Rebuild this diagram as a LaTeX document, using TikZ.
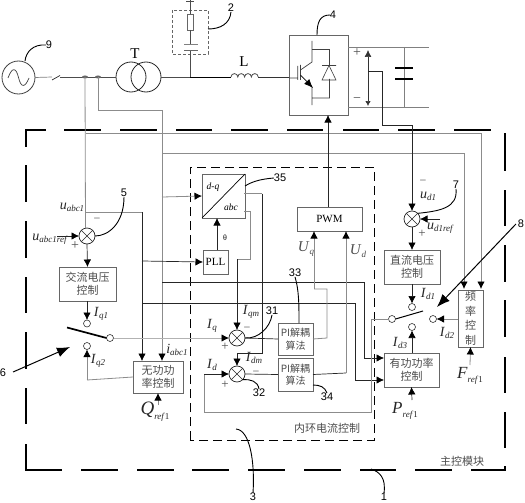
\documentclass[tikz,border=0pt]{standalone}
\usepackage{fontspec}
\setmainfont{Liberation Serif}
\newfontfamily\cjk{Noto Sans CJK SC}
\newfontfamily\numf{Liberation Sans}
\usetikzlibrary{arrows.meta,calc}
\newcommand{\lab}[2]{\textit{#1}\raisebox{-0.35ex}{\fontsize{9}{9}\selectfont\textit{#2}}}
\newcommand{\labr}[3]{\textit{#1}\raisebox{-0.55ex}{\fontsize{9}{9}\selectfont\textit{#2}#3}}
\tikzset{
 every node/.style={inner sep=0pt,outer sep=0pt},
 gl/.style={draw=black!45,line width=0.8pt},
 bl/.style={draw=black!85,line width=0.7pt},
 arr/.style={-{Latex[length=7.5pt,width=7.5pt,black]}},
 blockbox/.style={draw=black!60,line width=0.9pt,fill=white,font=\cjk\fontsize{11}{13.5}\selectfont,text=black!70,align=center},
 sumj/.style={circle,draw=black!85,line width=0.7pt,minimum size=16pt,fill=white,
   path picture={\draw[black!85,line width=0.6pt] (path picture bounding box.north west)--(path picture bounding box.south east)
     (path picture bounding box.north east)--(path picture bounding box.south west);}},
 contact/.style={circle,draw=black!80,line width=0.6pt,minimum size=7pt,fill=white},
 bigdash/.style={draw=black,line width=1.9pt},
 num/.style={font=\numf\fontsize{11}{11}\selectfont},
 lbl/.style={font=\fontsize{14}{14}\selectfont,text=black!85},
 sgn/.style={font=\fontsize{12}{12}\selectfont,text=black!70},
 leader/.style={draw=black,line width=0.9pt},
 bigarr/.style={draw=black,line width=1pt,-{Latex[length=13pt,width=10pt]}},
 cjklab/.style={font=\cjk\fontsize{11}{11}\selectfont,text=black!70}
}
\begin{document}
\begin{tikzpicture}[x=1pt,y=-1pt]
\useasboundingbox (0,0) rectangle (525,503);
% main dashed frame
\foreach \a/\b in {25/46,64/101,120/157,176/212,231/268,287/323,343/379,398/435,454/491} \draw[bigdash] (\a,130)--(\b,130);
\foreach \a/\b in {26/62,81/118,137/174,192/229,248/285,304/341,360/396,415/452,471/505} \draw[bigdash] (\a,470)--(\b,470);
\foreach \a/\b in {130/147,165/202,221/258,277/313,332/369,388/424,444/471} \draw[bigdash] (26,\a)--(26,\b);
\foreach \a/\b in {133/171,190/226,245/282,300/337,357/393,412/448,466/471} \draw[bigdash] (505,\a)--(505,\b);
% inner dashed frame
\draw[black,line width=0.9pt,dash pattern=on 9pt off 5pt] (190,440)--(190,167)--(374,167)--(374,440)--cycle;
% blocks
\node[blockbox,minimum width=57pt,minimum height=34pt] (ac) at (87.5,284) {交流电压\\控制};
\node[blockbox,minimum width=50pt,minimum height=32pt] (qc) at (158,377) {无功功\\率控制};
\node[blockbox,minimum width=43pt,minimum height=44pt] (dq) at (223.5,196) {};
\node[blockbox,font=\fontsize{11}{11}\selectfont,text=black,minimum width=25pt,minimum height=24pt] (pll) at (215.5,262) {PLL};
\node[blockbox,font=\fontsize{11}{11}\selectfont,text=black,minimum width=65pt,minimum height=24pt] (pwm) at (329.5,219) {PWM};
\node[blockbox,font=\cjk\fontsize{10}{12.5}\selectfont,minimum width=35pt,minimum height=32pt] (pi1) at (295.5,339) {PI解耦\\算法};
\node[blockbox,font=\cjk\fontsize{10}{12.5}\selectfont,minimum width=35pt,minimum height=33pt] (pi2) at (295.5,374.5) {PI解耦\\算法};
\node[blockbox,minimum width=56pt,minimum height=34pt] (dc) at (412,267) {直流电压\\控制};
\node[blockbox,minimum width=55pt,minimum height=34pt] (pc) at (411.5,370) {有功功率\\控制};
\node[blockbox,font=\cjk\fontsize{11}{14.5}\selectfont,minimum width=25pt,minimum height=57pt] (fc) at (470.5,318.5) {频\\率\\控\\制};
\node[draw=black!60,line width=0.9pt,fill=white,minimum width=59pt,minimum height=80pt] (conv) at (318.5,75) {};
\draw[black,line width=0.7pt] (dq.south west)--(dq.north east);
\node[font=\fontsize{9.5}{10}\selectfont\itshape] at (213,187) {d-q};
\node[font=\fontsize{9.5}{10}\selectfont\itshape] at (231,207) {abc};
% summing junctions
\node[sumj] (s5) at (87,236) {};
\node[sumj] (s7) at (412,219) {};
\node[sumj] (s31) at (237,338) {};
\node[sumj] (s32) at (237,374) {};
% source and transformer
\node[circle,draw=black!75,line width=0.8pt,minimum size=33pt] (src) at (18.5,77.5) {};
\draw[black!75,line width=0.7pt] (8,78) .. controls (12,67) and (16,67) .. (18.5,77.5) .. controls (21,88) and (25,88) .. (29,78);
\node[circle,draw=black!85,line width=0.8pt,minimum size=30pt] (t1) at (131,77) {};
\node[circle,draw=black!85,line width=0.8pt,minimum size=30pt] (t2) at (146,77) {};
\node[font=\fontsize{15}{15}\selectfont] (tl) at (135,54) {T};
\node[font=\fontsize{15}{15}\selectfont] (ll) at (244,62) {L};
\coordinate (sw1) at (52,77);
\coordinate (sw2) at (60,77);
\coordinate (ct1) at (85,77);
\coordinate (ct2) at (98,77);
\coordinate (lin) at (231,77);
\coordinate (lout) at (258,77);
\coordinate (tee) at (190,77);
\draw[black!50,line width=0.7pt] (src.east)--(sw1);
\draw[black!85,line width=0.7pt] (52,80)--(60,75.5);
\draw[black!70,line width=0.8pt] (sw2)--(t1.west);
\draw[black!70,line width=0.8pt] (t2.east)--(tee);
\draw[black,line width=0.8pt] (tee)--(lin);
\draw[black!80,line width=0.8pt] (lout)--(conv.west |- lout);
\draw[black!70,line width=0.8pt] (lin) arc[start angle=180,end angle=0,radius=3.4pt] arc[start angle=180,end angle=0,radius=3.4pt] arc[start angle=180,end angle=0,radius=3.4pt] arc[start angle=180,end angle=0,radius=3.4pt];
\fill[black!60] (ct1) ellipse[x radius=3pt,y radius=1.5pt];
\fill[black!60] (ct2) ellipse[x radius=3pt,y radius=1.5pt];
% filter branch (2)
\draw[black!60,line width=0.8pt,densely dashed] (172,10) rectangle (208,54);
\node[draw=black!60,line width=0.7pt,minimum width=6pt,minimum height=16pt,fill=white] (res) at (190,22) {};
\coordinate (ftop) at (190,0);
\draw[black!70,line width=0.7pt] (ftop)--(res.north) (res.south)--(190,45) (190,51)--(tee);
\draw[black!50,line width=1pt] (184,45)--(198,45);
\draw[black!60,line width=1pt] (184,51)--(198,51);
\draw[black!70,line width=0.7pt] (186,1)--(194,1);
% IGBT
\draw[black!75,line width=0.7pt] (297.7,66)--(297.7,80) (300.5,65)--(300.5,80) (312,41)--(312,62)--(300.5,70)
 (289,78)--(297.7,78) (312,87)--(312,105) (312,49.5)--(329.5,49.5)--(329.5,65) (329.5,79)--(329.5,98)--(312,98);
\draw[line width=0.7pt,-{Latex[length=9pt,width=7pt]}] (300.5,75)--(313,88);
\draw[black!75,line width=0.6pt] (322,80)--(336,80)--(329,65.5)--cycle (322,65.5)--(336,65.5);
% DC side
\coordinate (dt) at (429,47); \coordinate (db) at (429,107);
\draw[black!50,line width=0.8pt] (conv.east |- dt)--(dt) (conv.east |- db)--(db);
\draw[black!50,line width=0.9pt] (404,47)--(404,107);
\draw[black,line width=1.5pt] (395,68)--(413,68) (395,79)--(413,79);
\draw[black!80,line width=0.7pt,{Latex[length=7pt,width=7pt]}-{Latex[length=5pt,width=5.5pt]}] (368,50)--(368,106);
\node[sgn,font=\fontsize{14}{14}\selectfont] at (357,53) {+};
\node[sgn,font=\fontsize{14}{14}\selectfont] at (357,100) {−};
% measurement lines
\draw[gl] (ct1)--(85.5,228);
\draw[gl,arr] (ct2)--(98,110)--(162,110)--(162,361);
\draw[gl,arr] (85.5,133)--(481,133)--(481,289);
\draw[gl,arr] (162,153)--(464,153)--(464,289);
\draw[gl,arr] (162,197)--(dq.west);
\draw[gl] (86,212)--(142,212);
\draw[bl,arr] (142,212)--(142,361);
\draw[bl,arr] (142,261)--(pll.west);
\draw[bl] (162,282)--(364,282)--(364,358);
\draw[bl,arr] (364,358)--(384,358);
\draw[bl] (142,303)--(355,303)--(355,380);
\draw[bl,arr] (355,380)--(384,380);
\draw[bl] (368,71)--(382,71)--(382,125)--(412,125);
\draw[bl,arr] (412,125)--(s7.north);
% left control chain
\coordinate (uin) at (57,236);
\draw[bl,arr] (uin)--(s5.west);
\draw[bl,arr] (s5.south)--(ac.north);
\node[contact] (c1t) at (87,323.5) {};
\node[contact] (c1r) at (110,338) {};
\node[contact] (c1b) at (87,346) {};
\draw[bl,arr] (ac.south -| c1t)--(c1t.north);
\draw[draw=black,line width=1.7pt] (67,327.5)--(c1r.west);
\draw[gl,draw=black!30,arr] (c1r.east)--(s31.west);
\draw[gl] (qc.west)--(87,380);
\draw[gl,arr] (87,380)--(c1b.south);
\coordinate (qr) at (158,405);
\draw[gl,arr] (qr)--(qc.south);
% dq and PLL
\draw[bl,arr] (pll.north -| 217,0)--(dq.south -| 217,0);
\draw[gl] (244,193.5)--(262,193.5);
\draw[bl] (262,193.5)--(262,353)--(237,353);
\draw[bl,arr] (237,353)--(s32.north);
\draw[gl] (244,211)--(250,211)--(250,259)--(237,259);
\draw[bl,arr] (237,259)--(s31.north);
\draw[bl] (s31.east)--(pi1.west);
\draw[bl] (s32.east)--(pi2.west);
\draw[gl] (pi1.east)--(327,338)--(327,289)--(314,289);
\draw[gl,arr] (314,289)--(314,231);
\draw[bl] (pi2.east)--(346,373);
\draw[gl,arr] (346,373)--(346,231);
\draw[bl,arr] (328,207)--(328,115);
% Id loop and right switch
\node[contact] (c2l) at (392,319) {};
\node[contact] (c2t) at (412,307) {};
\node[contact] (c2b) at (412,327) {};
\node[contact] (c2r) at (433,319) {};
\draw[gl] (c2l.west)--(371,319)--(371,412)--(204,412)--(204,374);
\draw[bl,arr] (204,374)--(s32.west);
\draw[black,line width=1pt] (c2l.east)--(423,311);
\draw[bl,arr] (dc.south -| c2t)--(c2t.north);
\draw[bl,arr] (pc.north -| c2b)--(c2b.south);
\draw[bl,arr] (s7.south)--(dc.north);
\coordinate (ur) at (440,219);
\draw[bl,arr] (ur)--(s7.east);
\draw[gl,arr] (458,319)--(c2r.east);
\coordinate (pr) at (412,400);
\draw[bl,arr] (pr)--(pc.south);
\coordinate (fr) at (470,365);
\draw[gl,arr] (fr)--(fc.south);
% text labels
\node[lbl] at (72,207) {\lab{u}{abc1}};
\node[lbl] at (50,239) {\lab{u}{abc1ref}};
\node[sgn] at (97,220) {−};
\node[sgn,font=\fontsize{14}{14}\selectfont] at (75,246) {+};
\node[lbl] at (101,314) {\lab{I}{q1}};
\node[lbl] at (98,361) {\lab{I}{q2}};
\node[lbl] at (177,350) {\lab{i}{abc1}};
\node[lbl,font=\fontsize{19}{19}\selectfont] at (155,412) {\labr{Q}{ref}{1}};
\node[font=\fontsize{8}{8}\selectfont] at (225,238) {θ};
\node[lbl,font=\fontsize{15}{15}\selectfont,text=black!70] at (306,249) {\lab{U}{q}};
\node[lbl,font=\fontsize{15}{15}\selectfont,text=black!70] at (358,251) {\lab{U}{d}};
\node[lbl] at (251,312) {\lab{I}{qm}};
\node[lbl] at (212,326) {\lab{I}{q}};
\node[sgn] at (247,329) {−};
\node[sgn,font=\fontsize{13}{13}\selectfont] at (225,347) {+};
\node[lbl] at (212,365) {\lab{I}{d}};
\node[sgn,font=\fontsize{13}{13}\selectfont] at (225,385) {+};
\node[lbl] at (254,358) {\lab{I}{dm}};
\node[sgn] at (256,373) {−};
\node[sgn] at (423,182) {−};
\node[lbl] at (428,196) {\lab{u}{d1}};
\node[lbl,anchor=west] at (427,228) {\lab{u}{d1ref}};
\node[sgn,font=\fontsize{13}{13}\selectfont] at (422,234) {+};
\node[lbl] at (428,294) {\lab{I}{d1}};
\node[lbl] at (447,333) {\lab{I}{d2}};
\node[lbl] at (400,343) {\lab{I}{d3}};
\node[lbl,font=\fontsize{17}{17}\selectfont] at (405,411) {\labr{P}{ref}{1}};
\node[lbl,font=\fontsize{17}{17}\selectfont] at (470,376) {\labr{F}{ref}{1}};
\node[cjklab] at (327,428) {内环电流控制};
\node[cjklab] at (462,461) {主控模块};
% numbered leaders
\node[num] (n9) at (49,45) {9};
\draw[leader] (src.north -| 25,0) .. controls (26,52) and (33,44) .. (n9.west);
\node[num] (n2) at (231,8) {2};
\draw[leader] (208,29) .. controls (220,29) and (230,24) .. (n2.south);
\node[num] (n4) at (333,15) {4};
\draw[leader] (317,35) .. controls (317,22) and (320,15) .. (n4.west);
\node[num] (n5) at (124,193) {5};
\draw[leader] (s5.east) .. controls (108,236) and (124,224) .. (n5.south);
\node[num] (n6) at (3,373) {6};
\coordinate (a6) at (70,347);
\draw[bigarr] (n6.east)++(7,-1)--(a6);
\node[num] (n7) at (456,185) {7};
\draw[leader] (s7.north east) .. controls (440,211) and (458,208) .. (n7.south);
\node[num] (n8) at (521,224) {8};
\coordinate (a8) at (437,307);
\draw[bigarr] (n8.west)++(-2,0)--(a8);
\node[num] (n35) at (280,178) {35};
\draw[leader] (dq.east |- 0,186) .. controls (253,181) and (262,179) .. (n35.west);
\node[num] (n33) at (295,273) {33};
\coordinate (p33) at (299,323);
\draw[leader] (n33.south) .. controls (299,290) and (299,305) .. (p33);
\node[num] (n31) at (272,311) {31};
\draw[leader] (n31.south) .. controls (270,328) and (258,339) .. (s31.east);
\node[num] (n32) at (259,393) {32};
\draw[leader] (s32.south east) .. controls (250,379) and (258,381) .. (n32.north);
\node[num] (n34) at (327,397) {34};
\draw[leader] (313,385) .. controls (320,385) and (325,387) .. (n34.north);
\node[num] (n3) at (253,497) {3};
\coordinate (l3) at (236,429);
\draw[leader] (l3) .. controls (250,430) and (255,462) .. (n3.north);
\node[num] (n1) at (384,497) {1};
\coordinate (l1) at (371,469);
\draw[leader] (l1) .. controls (380,472) and (386,478) .. (n1.north);
\end{tikzpicture}
\end{document}
